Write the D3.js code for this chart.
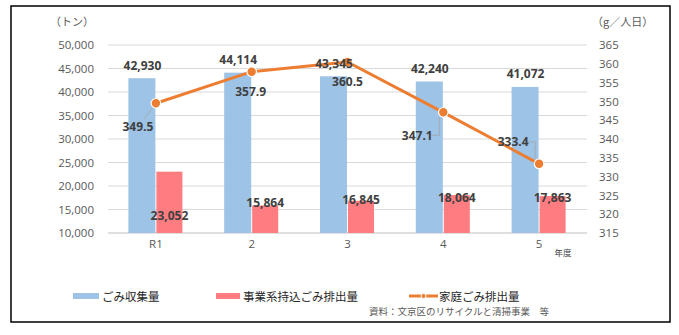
<!DOCTYPE html>
<html><head><meta charset="utf-8">
<script src="https://cdn.jsdelivr.net/npm/d3@7"></script>
<style>
body{margin:0;background:#fff;}
svg{display:block;font-family:"Noto Sans CJK JP","Noto Sans",sans-serif;}
</style></head>
<body><svg id="c" width="679" height="335"></svg>
<script>
const categories = ["R1","2","3","4","5"];
const collected = [42930,44114,43345,42240,41072];
const business = [23052,15864,16845,18064,17863];
const household = [349.5,357.9,360.5,347.1,333.4];
const leftTicks = [10000,15000,20000,25000,30000,35000,40000,45000,50000];
const rightTicks = [315,320,325,330,335,340,345,350,355,360,365];
const seriesNames = ["ごみ収集量","事業系持込ごみ排出量","家庭ごみ排出量"];

const svg = d3.select("#c");
const C = {blue:"#9DC3E6", pink:"#FF7C80", orange:"#ED7D31", grid:"#d9d9d9", tick:"#595959", label:"#404040"};
const m = {l:108, r:587, t:45, b:233};

svg.append("rect").attr("x",11).attr("y",6).attr("width",659).attr("height",316)
  .attr("fill","none").attr("stroke","#000").attr("stroke-width",1.5);

const x = d3.scaleBand().domain(categories).range([m.l,m.r]);
const yL = d3.scaleLinear().domain([10000,50000]).range([m.b,m.t]);
const yR = d3.scaleLinear().domain([315,365]).range([m.b,m.t]);
const bw = 27;

// grid
svg.append("g").selectAll("line").data(leftTicks.slice(1)).join("line")
  .attr("x1",m.l).attr("x2",m.r).attr("y1",d=>yL(d)).attr("y2",d=>yL(d))
  .attr("stroke",C.grid).attr("stroke-width",1);

// axes
const axL = svg.append("g").attr("transform",`translate(${m.l-11},0)`)
  .call(d3.axisLeft(yL).tickValues(leftTicks).tickFormat(d3.format(",")).tickSize(0));
const axR = svg.append("g").attr("transform",`translate(${m.r+9},0)`)
  .call(d3.axisRight(yR).tickValues(rightTicks).tickSize(0));
const axB = svg.append("g").attr("transform",`translate(0,${m.b})`)
  .call(d3.axisBottom(x).tickSize(0).tickPadding(7));
[axL,axR,axB].forEach(a=>{a.select(".domain").remove();
  a.selectAll("text").attr("fill",C.tick).style("font-size","11.5px").style("font-family","'Open Sans','Noto Sans',sans-serif");});
svg.append("line").attr("x1",m.l).attr("x2",m.r).attr("y1",m.b).attr("y2",m.b).attr("stroke","#bfbfbf");

// bars
svg.append("g").selectAll("rect").data(collected).join("rect")
  .attr("x",(d,i)=>x(categories[i])+x.bandwidth()/2-bw-0.5).attr("width",bw)
  .attr("y",d=>yL(d)).attr("height",d=>m.b-yL(d)).attr("fill",C.blue);
svg.append("g").selectAll("rect").data(business).join("rect")
  .attr("x",(d,i)=>x(categories[i])+x.bandwidth()/2+0.5).attr("width",bw-1)
  .attr("y",d=>yL(d)).attr("height",d=>m.b-yL(d)).attr("fill",C.pink);

// line
const cx = i=>x(categories[i])+x.bandwidth()/2;
const line = d3.line().x((d,i)=>cx(i)).y(d=>yR(d));
svg.append("path").datum(household).attr("d",line).attr("fill","none")
  .attr("stroke",C.orange).attr("stroke-width",3).attr("stroke-linecap","round");

// leader lines for line labels
const lineLabOff = [[-18,23],[-1,20],[0,20],[-26,23],[-26,-22]];
const leaders = svg.append("g").attr("stroke","#a6a6a6").attr("fill","none").attr("stroke-width",0.8);
leaders.append("path").attr("d",`M${cx(0)-12},${yR(household[0])+16}L${cx(0)-3},${yR(household[0])+4}`);
leaders.append("path").attr("d",`M${cx(3)-12},${yR(household[3])+23}H${cx(3)-4}V${yR(household[3])+5}`);
leaders.append("path").attr("d",`M${cx(4)-12},${yR(household[4])-22}H${cx(4)-4}V${yR(household[4])-5}`);

svg.append("g").selectAll("circle").data(household).join("circle")
  .attr("cx",(d,i)=>cx(i)).attr("cy",d=>yR(d)).attr("r",4.8)
  .attr("fill",C.orange).attr("stroke","#fff").attr("stroke-width",1.2);

// labels
const lab = (g)=>g.attr("text-anchor","middle").attr("dominant-baseline","central")
  .attr("fill",C.label).style("font-weight","bold").style("font-size","12px")
  .style("font-family","'Open Sans','Noto Sans',sans-serif");
const fmt = d3.format(",");
svg.append("g").call(lab).selectAll("text").data(collected).join("text")
  .attr("x",(d,i)=>cx(i)-bw/2).attr("y",d=>yL(d)-13).text(d=>fmt(d));
const pinkOff = [44,-3,-1,2,1];
svg.append("g").call(lab).selectAll("text").data(business).join("text")
  .attr("x",(d,i)=>cx(i)+bw/2).attr("y",(d,i)=>yL(d)+pinkOff[i]).text(d=>fmt(d));
svg.append("g").call(lab).selectAll("text").data(household).join("text")
  .attr("x",(d,i)=>cx(i)+lineLabOff[i][0]).attr("y",(d,i)=>yR(d)+lineLabOff[i][1]).text(d=>d.toFixed(1));

// unit labels
svg.append("text").attr("x",50).attr("y",26).attr("fill",C.tick).style("font-size","11px").text("（トン）");
svg.append("text").attr("x",592).attr("y",26).attr("fill",C.tick).style("font-size","11px").text("（g／人日）");
svg.append("text").attr("x",563).attr("y",256).attr("text-anchor","middle").attr("fill","#404040").style("font-size","8.5px").text("年度");

// legend
const lg = svg.append("g").style("font-size","11.5px").attr("fill","#262626");
lg.append("rect").attr("x",73).attr("y",293).attr("width",26).attr("height",6).attr("fill",C.blue);
lg.append("text").attr("x",102).attr("y",296).attr("dominant-baseline","central").text(seriesNames[0]);
lg.append("rect").attr("x",216).attr("y",293).attr("width",24).attr("height",6).attr("fill",C.pink);
lg.append("text").attr("x",243).attr("y",296).attr("dominant-baseline","central").text(seriesNames[1]);
lg.append("line").attr("x1",409).attr("x2",438).attr("y1",296).attr("y2",296).attr("stroke",C.orange).attr("stroke-width",3);
lg.append("circle").attr("cx",423.5).attr("cy",296).attr("r",2.5).attr("fill",C.orange).attr("stroke","#fff").attr("stroke-width",1);
lg.append("text").attr("x",439).attr("y",296).attr("dominant-baseline","central").text(seriesNames[2]);
svg.append("text").attr("x",369).attr("y",311).attr("dominant-baseline","central").attr("fill","#595959")
  .style("font-size","9.5px").text("資料：文京区のリサイクルと清掃事業　等");
</script></body></html>
